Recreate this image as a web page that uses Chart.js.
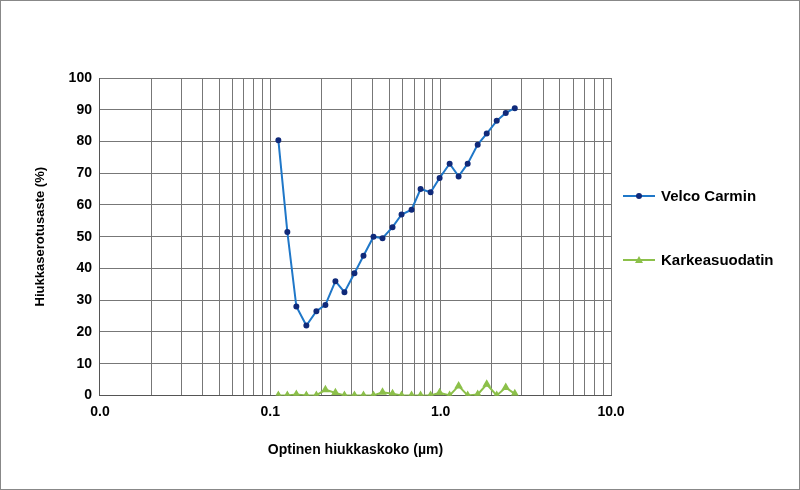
<!DOCTYPE html><html><head><meta charset="utf-8"><script src="https://cdn.jsdelivr.net/npm/chart.js@4"></script>
<style>body{margin:0;background:#fff;font-family:"Liberation Sans",Arial,sans-serif}
#w{position:relative;width:798px;height:488px;border:1px solid #888}
.lg{position:absolute;left:622px;font-weight:bold;font-size:15px;display:flex;align-items:center}
.lg span{margin-left:6px}</style></head><body>
<div id="w"><canvas id="c" width="798" height="488"></canvas>
<div class="lg" style="top:186px"><svg width="32" height="12"><line x1="0" y1="6" x2="32" y2="6" stroke="#1f77c8" stroke-width="2"/><circle cx="16" cy="6" r="3" fill="#102a7a"/></svg><span>Velco Carmin</span></div>
<div class="lg" style="top:250px"><svg width="32" height="12"><line x1="0" y1="6" x2="32" y2="6" stroke="#8cc04a" stroke-width="2"/><polygon points="16,2 20,9 12,9" fill="#8cc04a"/></svg><span>Karkeasuodatin</span></div>
</div>
<script>
const sizes=[0.1115,0.1259,0.1422,0.1628,0.1864,0.2106,0.2411,0.2724,0.3119,0.3524,0.4034,0.4557,0.5218,0.5894,0.6748,0.7623,0.8728,0.986,1.129,1.275,1.441,1.65,1.864,2.134,2.411,2.724];
const velco=[80.4,51.5,28,22,26.5,28.5,36,32.5,38.5,44,50,49.5,53,57,58.5,65,64,68.5,73,69,73,79,82.5,86.5,89,90.5];
const karkea=[0,0,0.3,0,0,1.8,0.8,0,0,0,0,1,0.5,0,0,0,0,0.8,0,3,0,0.3,3.5,0,2.5,0.5];
const xLabels=[0.01,0.1,1,10];
const f={family:"Liberation Sans",weight:"bold",size:14};
new Chart(document.getElementById('c'),{type:'line',
data:{datasets:[
{label:'Velco Carmin',data:sizes.map((x,i)=>({x,y:velco[i]})),borderColor:'#1f77c8',backgroundColor:'#102a7a',pointBackgroundColor:'#102a7a',pointBorderColor:'#102a7a',pointRadius:2,borderWidth:2},
{label:'Karkeasuodatin',data:sizes.map((x,i)=>({x,y:karkea[i]})),borderColor:'#8cc04a',backgroundColor:'#8cc04a',pointStyle:'triangle',pointRadius:3,borderWidth:2}]},
options:{responsive:false,animation:false,
layout:{padding:{left:28,right:188,top:77,bottom:26}},
plugins:{legend:{display:false},tooltip:{enabled:false}},
scales:{
x:{type:'logarithmic',min:0.01,max:10,
 grid:{color:'#777',lineWidth:1,drawTicks:false},border:{color:'#555'},
 afterBuildTicks:s=>{const t=[];for(let e=-2;e<1;e++)for(let m=1;m<10;m++)t.push({value:m*Math.pow(10,e)});t.push({value:10});s.ticks=t;},
 ticks:{autoSkip:false,maxRotation:0,padding:8,color:'#000',font:f,callback:v=>xLabels.some(l=>Math.abs(l-v)<1e-9)?v.toFixed(1):''},
 title:{display:true,text:'Optinen hiukkaskoko (µm)',color:'#000',font:f,padding:{top:14}}},
y:{min:0,max:100,grid:{color:'#777',drawTicks:false},border:{color:'#555'},
 ticks:{stepSize:10,padding:8,color:'#000',font:f},
 title:{display:true,text:'Hiukkaserotusaste (%)',color:'#000',font:{...f,size:13},padding:{bottom:12}}}}}});
</script></body></html>
